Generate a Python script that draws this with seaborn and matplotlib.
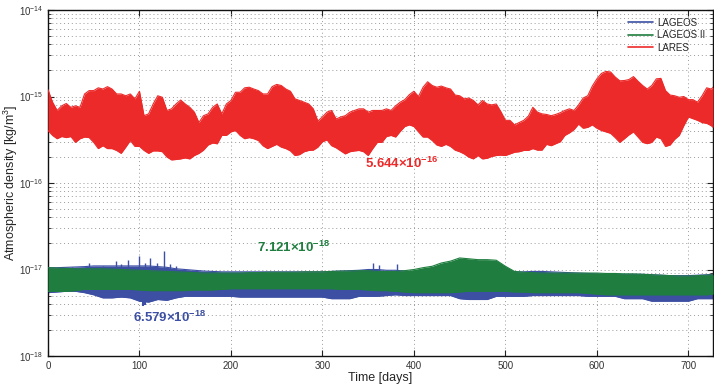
import numpy as np
import pandas as pd
import matplotlib
matplotlib.use("Agg")
import matplotlib.pyplot as plt
from matplotlib.lines import Line2D
from matplotlib.ticker import LogLocator, FixedLocator, MultipleLocator, NullFormatter, LogFormatterSciNotation
import seaborn as sns

# ---------------- data ----------------
# LARES envelope, every 5 days
lares_days = list(range(0, 726, 5)) + [727]
lares_upper = [
    1.2e-15, 8.6e-16, 6.9e-16, 7.8e-16, 8.3e-16, 7.5e-16, 7.8e-16, 7.5e-16, 1.07e-15, 1.17e-15,
    1.17e-15, 1.26e-15, 1.22e-15, 1.3e-15, 1.22e-15, 1.07e-15, 1.07e-15, 1.02e-15, 1.07e-15, 9.4e-16,
    1.15e-15, 6.0e-16, 6.3e-16, 8.2e-16, 1.02e-15, 9.8e-16, 6.9e-16, 7.2e-16, 8.2e-16, 9.1e-16,
    8.2e-16, 7.5e-16, 6.6e-16, 5.0e-16, 6.0e-16, 6.3e-16, 7.5e-16, 8.2e-16, 6.3e-16, 8.2e-16,
    9.0e-16, 1.12e-15, 1.12e-15, 1.26e-15, 1.28e-15, 1.22e-15, 1.17e-15, 1.07e-15, 1.07e-15, 1.3e-15,
    1.38e-15, 1.34e-15, 1.22e-15, 1.15e-15, 9.4e-16, 9.0e-16, 8.6e-16, 8.2e-16, 7.2e-16, 5.2e-16,
    5.8e-16, 6.6e-16, 6.9e-16, 5.5e-16, 5.8e-16, 6.0e-16, 6.6e-16, 6.9e-16, 7.2e-16, 7.2e-16,
    6.6e-16, 6.9e-16, 6.9e-16, 6.9e-16, 7.2e-16, 6.9e-16, 7.8e-16, 8.6e-16, 9.2e-16, 1.05e-15,
    1.15e-15, 1.0e-15, 1.28e-15, 1.48e-15, 1.34e-15, 1.28e-15, 1.32e-15, 1.26e-15, 1.22e-15, 1.04e-15,
    1.02e-15, 9.4e-16, 9.6e-16, 9.0e-16, 8.0e-16, 9.0e-16, 8.2e-16, 8.0e-16, 8.2e-16, 6.7e-16,
    5.3e-16, 5.3e-16, 4.7e-16, 5.0e-16, 5.3e-16, 5.9e-16, 7.5e-16, 6.6e-16, 6.3e-16, 6.2e-16,
    6.0e-16, 6.2e-16, 6.5e-16, 6.9e-16, 7.2e-16, 6.9e-16, 8.0e-16, 9.6e-16, 1.02e-15, 1.32e-15,
    1.6e-15, 1.85e-15, 1.95e-15, 1.92e-15, 1.68e-15, 1.52e-15, 1.53e-15, 1.57e-15, 1.7e-15, 1.5e-15,
    1.34e-15, 1.22e-15, 1.34e-15, 1.6e-15, 1.62e-15, 1.17e-15, 1.04e-15, 1.02e-15, 9.8e-16, 1.0e-15,
    9.2e-16, 9.2e-16, 8.6e-16, 1.02e-15, 1.26e-15, 1.22e-15, 1.28e-15]
lares_lower = [
    4.05e-16, 3.55e-16, 3.25e-16, 3.45e-16, 3.35e-16, 3.45e-16, 2.95e-16, 3.25e-16, 3.4e-16, 3.35e-16,
    2.95e-16, 2.5e-16, 2.7e-16, 2.5e-16, 2.5e-16, 2.38e-16, 2.2e-16, 2.6e-16, 3.1e-16, 2.65e-16,
    2.65e-16, 2.38e-16, 2.2e-16, 2.35e-16, 2.35e-16, 2.3e-16, 2.0e-16, 1.85e-16, 1.87e-16, 1.9e-16,
    1.95e-16, 1.9e-16, 2.08e-16, 2.2e-16, 2.4e-16, 2.75e-16, 2.9e-16, 2.84e-16, 3.55e-16, 3.55e-16,
    3.9e-16, 4.05e-16, 3.55e-16, 3.25e-16, 3.35e-16, 3.25e-16, 3.1e-16, 2.7e-16, 2.5e-16, 2.65e-16,
    2.8e-16, 2.6e-16, 2.5e-16, 2.35e-16, 2.08e-16, 2.13e-16, 2.3e-16, 2.38e-16, 2.4e-16, 2.6e-16,
    3.0e-16, 3.15e-16, 2.7e-16, 2.55e-16, 2.35e-16, 2.17e-16, 2.3e-16, 2.35e-16, 2.38e-16, 2.3e-16,
    2.08e-16, 2.5e-16, 2.95e-16, 2.95e-16, 3.45e-16, 3.55e-16, 3.4e-16, 3.95e-16, 4.5e-16, 4.7e-16,
    4.5e-16, 3.9e-16, 3.4e-16, 3.4e-16, 3.1e-16, 2.75e-16, 2.65e-16, 2.8e-16, 2.65e-16, 2.4e-16,
    2.3e-16, 2.17e-16, 1.99e-16, 1.9e-16, 2.08e-16, 1.9e-16, 1.93e-16, 2.03e-16, 2.08e-16, 2.1e-16,
    2.08e-16, 2.17e-16, 2.27e-16, 2.3e-16, 2.38e-16, 2.38e-16, 2.5e-16, 2.4e-16, 2.4e-16, 2.8e-16,
    2.7e-16, 2.85e-16, 3.0e-16, 3.55e-16, 3.8e-16, 4.15e-16, 4.8e-16, 4.3e-16, 4.4e-16, 4.7e-16,
    4.3e-16, 4.05e-16, 3.9e-16, 3.75e-16, 3.35e-16, 2.95e-16, 3.25e-16, 3.6e-16, 3.9e-16, 3.4e-16,
    2.95e-16, 2.85e-16, 2.95e-16, 3.4e-16, 3.25e-16, 2.65e-16, 2.75e-16, 3.2e-16, 3.55e-16, 4.6e-16,
    5.8e-16, 5.55e-16, 5.3e-16, 5.0e-16, 4.9e-16, 4.6e-16, 4.4e-16]

# LAGEOS / LAGEOS II envelopes, every 10 days
days = [0, 10, 20, 30, 40, 50, 60, 70, 80, 90, 100, 110, 120, 130, 140, 150, 160, 170, 180, 190,
        200, 210, 220, 230, 240, 250, 260, 270, 280, 290, 300, 310, 320, 330, 340, 350, 360, 370,
        380, 390, 400, 410, 420, 430, 440, 450, 460, 470, 480, 490, 500, 510, 520, 530, 540, 550,
        560, 570, 580, 590, 600, 610, 620, 630, 640, 650, 660, 670, 680, 690, 700, 710, 720, 727]

lageos2_upper = [1.05e-17, 1.04e-17, 1.03e-17, 1.02e-17, 1.02e-17, 1.02e-17, 1.02e-17, 1.01e-17, 1.0e-17, 9.9e-18,
                 9.8e-18, 9.7e-18, 9.6e-18, 9.5e-18, 9.4e-18, 9.3e-18, 9.2e-18, 9.1e-18, 9.1e-18, 9.1e-18,
                 9.1e-18, 9.1e-18, 9.2e-18, 9.2e-18, 9.3e-18, 9.3e-18, 9.3e-18, 9.3e-18, 9.4e-18, 9.4e-18,
                 9.4e-18, 9.5e-18, 9.6e-18, 9.6e-18, 9.7e-18, 9.7e-18, 9.5e-18, 9.5e-18, 9.5e-18, 9.7e-18,
                 1.0e-17, 1.05e-17, 1.09e-17, 1.19e-17, 1.25e-17, 1.36e-17, 1.33e-17, 1.3e-17, 1.3e-17, 1.28e-17,
                 1.09e-17, 9.5e-18, 9.3e-18, 9.2e-18, 9.1e-18, 9.1e-18, 9.1e-18, 9.1e-18, 9.1e-18, 9.1e-18,
                 9.1e-18, 9.0e-18, 9.0e-18, 8.9e-18, 8.9e-18, 8.8e-18, 8.7e-18, 8.6e-18, 8.5e-18, 8.4e-18,
                 8.4e-18, 8.5e-18, 8.6e-18, 8.7e-18]
lageos2_lower = [5.6e-18, 5.6e-18, 5.6e-18, 5.7e-18, 5.9e-18, 5.9e-18, 5.9e-18, 5.9e-18, 5.9e-18, 5.9e-18,
                 5.8e-18, 5.7e-18, 5.7e-18, 5.7e-18, 5.7e-18, 5.7e-18, 5.8e-18, 5.8e-18, 5.8e-18, 5.9e-18,
                 6.0e-18, 6.0e-18, 6.0e-18, 6.0e-18, 6.0e-18, 6.0e-18, 6.0e-18, 6.0e-18, 6.0e-18, 6.0e-18,
                 6.0e-18, 6.0e-18, 5.9e-18, 5.9e-18, 5.9e-18, 5.8e-18, 5.7e-18, 5.7e-18, 5.6e-18, 5.5e-18,
                 5.4e-18, 5.4e-18, 5.4e-18, 5.4e-18, 5.4e-18, 5.5e-18, 5.6e-18, 5.6e-18, 5.6e-18, 5.6e-18,
                 5.6e-18, 5.5e-18, 5.5e-18, 5.4e-18, 5.4e-18, 5.4e-18, 5.4e-18, 5.4e-18, 5.4e-18, 5.3e-18,
                 5.2e-18, 5.1e-18, 5.1e-18, 5.1e-18, 5.1e-18, 5.1e-18, 5.1e-18, 5.1e-18, 5.1e-18, 5.1e-18,
                 5.1e-18, 5.1e-18, 5.1e-18, 5.2e-18]

lageos_upper = [1.05e-17, 1.05e-17, 1.06e-17, 1.07e-17, 1.08e-17, 1.1e-17, 1.1e-17, 1.1e-17, 1.1e-17, 1.1e-17,
                1.1e-17, 1.1e-17, 1.08e-17, 1.06e-17, 1.02e-17, 1.0e-17, 9.8e-18, 9.6e-18, 9.5e-18, 9.4e-18,
                9.4e-18, 9.4e-18, 9.4e-18, 9.4e-18, 9.4e-18, 9.4e-18, 9.4e-18, 9.4e-18, 9.4e-18, 9.4e-18,
                9.4e-18, 9.5e-18, 9.6e-18, 9.7e-18, 9.8e-18, 1.0e-17, 1.0e-17, 9.8e-18, 9.8e-18, 9.6e-18,
                9.4e-18, 9.4e-18, 9.4e-18, 9.4e-18, 9.4e-18, 9.4e-18, 9.4e-18, 9.4e-18, 9.4e-18, 9.4e-18,
                9.4e-18, 9.4e-18, 9.4e-18, 9.5e-18, 9.5e-18, 9.4e-18, 9.3e-18, 9.2e-18, 9.1e-18, 9.0e-18,
                8.9e-18, 8.8e-18, 8.8e-18, 8.8e-18, 8.8e-18, 8.8e-18, 8.7e-18, 8.6e-18, 8.5e-18, 8.5e-18,
                8.5e-18, 8.6e-18, 8.7e-18, 8.8e-18]
lageos_lower = [5.4e-18, 5.5e-18, 5.6e-18, 5.6e-18, 5.4e-18, 5.1e-18, 4.7e-18, 4.7e-18, 4.8e-18, 4.7e-18,
                4.3e-18, 4.2e-18, 4.5e-18, 4.4e-18, 4.7e-18, 4.9e-18, 4.9e-18, 4.9e-18, 4.9e-18, 4.9e-18,
                4.9e-18, 4.8e-18, 4.8e-18, 4.8e-18, 4.8e-18, 4.8e-18, 4.8e-18, 4.8e-18, 4.8e-18, 4.8e-18,
                4.8e-18, 4.6e-18, 4.6e-18, 4.6e-18, 4.9e-18, 4.9e-18, 4.9e-18, 5.0e-18, 5.1e-18, 5.0e-18,
                5.0e-18, 5.0e-18, 5.0e-18, 5.0e-18, 5.0e-18, 4.6e-18, 4.5e-18, 4.5e-18, 4.5e-18, 4.9e-18,
                4.9e-18, 4.9e-18, 4.9e-18, 5.0e-18, 5.0e-18, 5.0e-18, 5.0e-18, 5.0e-18, 5.0e-18, 4.9e-18,
                4.9e-18, 4.9e-18, 4.9e-18, 4.6e-18, 4.6e-18, 4.6e-18, 4.3e-18, 4.3e-18, 4.3e-18, 4.3e-18,
                4.3e-18, 4.6e-18, 4.6e-18, 4.6e-18]

# isolated LAGEOS spikes rising above the band
spike_days = [26, 45, 60, 74, 80, 87, 100, 106, 112, 119, 127, 133, 140, 355, 362, 382]
spike_vals = [1.08e-17, 1.19e-17, 1.1e-17, 1.25e-17, 1.15e-17, 1.3e-17, 1.45e-17, 1.2e-17, 1.35e-17,
              1.2e-17, 1.63e-17, 1.15e-17, 1.1e-17, 1.2e-17, 1.12e-17, 1.15e-17]
# LAGEOS dip below the band
dip_days = [104, 106]
dip_vals = [3.8e-18, 3.9e-18]

y_ticks = [1e-18, 1e-17, 1e-16, 1e-15, 1e-14]
series_names = ["LAGEOS", "LAGEOS II", "LARES"]
means_text = ["6.579", "7.121", "5.644"]
means_exp = ["-18", "-18", "-16"]

# ---------------- styling ----------------
sns.set_style("ticks")
plt.rcParams["font.family"] = ["Liberation Sans", "DejaVu Sans"]
plt.rcParams["mathtext.fontset"] = "custom"
plt.rcParams["mathtext.rm"] = "Liberation Sans"
plt.rcParams["mathtext.bf"] = "Liberation Sans:bold"

c_blue = "#3c4fa3"
c_green = "#1f7e3f"
c_red = "#ed2a2a"
colors = {"LAGEOS": c_blue, "LAGEOS II": c_green, "LARES": c_red}

fig = plt.figure(figsize=(7.14, 3.85), dpi=100)
ax = fig.add_axes([0.0672, 0.0753, 0.9315, 0.8987])

# long-form frame of envelope edges
rows = []
for name, dd, up, lo in [("LAGEOS", days, lageos_upper, lageos_lower),
                         ("LAGEOS II", days, lageos2_upper, lageos2_lower),
                         ("LARES", lares_days, lares_upper, lares_lower)]:
    for d, u, l in zip(dd, up, lo):
        rows.append({"day": d, "value": u, "series": name, "edge": "upper"})
        rows.append({"day": d, "value": l, "series": name, "edge": "lower"})
df = pd.DataFrame(rows)

# LAGEOS (below), spikes, then LAGEOS II on top, then LARES
ax.fill_between(days, lageos_lower, lageos_upper, color=c_blue, lw=0, zorder=2)
ax.vlines(spike_days, 8.0e-18, spike_vals, color=c_blue, lw=1.0, zorder=2)
ax.vlines(dip_days, dip_vals, 5.0e-18, color=c_blue, lw=1.5, zorder=2)
ax.fill_between(days, lageos2_lower, lageos2_upper, color=c_green, lw=0, zorder=3)
ax.fill_between(lares_days, lares_lower, lares_upper, color=c_red, lw=0, zorder=3)

for name, z in [("LAGEOS", 2), ("LAGEOS II", 3), ("LARES", 3)]:
    sub = df[df["series"] == name]
    sns.lineplot(data=sub, x="day", y="value", units="edge", estimator=None,
                 color=colors[name], lw=0.8, ax=ax, legend=False, zorder=z)

ax.set_yscale("log")
ax.set_xlim(0, 727)
ax.set_ylim(1e-18, 1e-14)

ax.xaxis.set_major_locator(MultipleLocator(100))
ax.yaxis.set_major_locator(FixedLocator(y_ticks))
ax.yaxis.set_major_formatter(LogFormatterSciNotation())
ax.yaxis.set_minor_locator(LogLocator(base=10, subs=np.arange(2, 10), numticks=50))
ax.yaxis.set_minor_formatter(NullFormatter())

ax.grid(True, which="major", axis="both", color="#9a9a9a", ls=(0, (1, 3)), lw=0.7)
ax.grid(True, which="minor", axis="y", color="#9a9a9a", ls=(0, (1, 3)), lw=0.7)
ax.set_axisbelow(True)

ax.tick_params(which="both", direction="in", top=True, right=True, labelsize=7,
               colors="#222222", labelcolor="#333333")
ax.tick_params(which="major", length=4, width=0.8)
ax.tick_params(which="minor", length=2, width=0.6)
for s in ax.spines.values():
    s.set_linewidth(1.0)
    s.set_color("#111111")

ax.set_xlabel("Time [days]", fontsize=9)
ax.set_ylabel("Atmospheric density [kg/m$^3$]", fontsize=9)
ax.xaxis.set_label_coords(0.5, -0.046)
ax.yaxis.set_label_coords(-0.042, 0.5)

# mean-value annotations
ax.text(133, 2.8e-18, r"$\mathbf{%s{\times}10^{%s}}$" % (means_text[0], means_exp[0]),
        color=c_blue, fontsize=9.5, ha="center", va="center")
ax.text(269, 1.8e-17, r"$\mathbf{%s{\times}10^{%s}}$" % (means_text[1], means_exp[1]),
        color=c_green, fontsize=9.5, ha="center", va="center")
ax.text(387, 1.7e-16, r"$\mathbf{%s{\times}10^{%s}}$" % (means_text[2], means_exp[2]),
        color=c_red, fontsize=9.5, ha="center", va="center")

handles = [Line2D([0], [0], color=colors[n], lw=1.2) for n in series_names]
ax.legend(handles, series_names, loc="upper right", bbox_to_anchor=(1.0, 1.0),
          frameon=False, fontsize=7, handlelength=2.6, handletextpad=0.4,
          labelspacing=0.25, borderaxespad=0.4)

fig.savefig("out.png", dpi=100)
